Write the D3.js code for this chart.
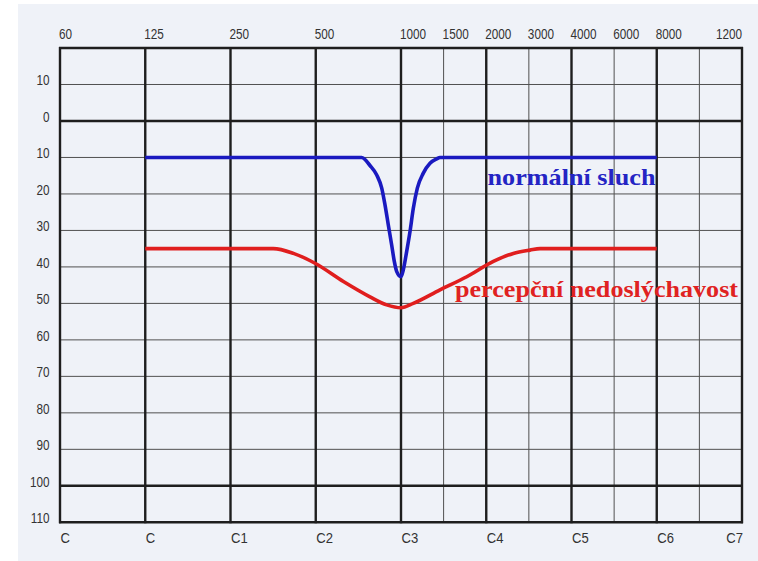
<!DOCTYPE html>
<html><head><meta charset="utf-8">
<script src="https://cdn.jsdelivr.net/npm/d3@7"></script>
<style>body{margin:0;background:#fff}svg{display:block}</style>
</head><body>
<svg id="c" width="758" height="561"></svg>
<script>
// ---- data ----
const topTickFreqs  = [62.5,125,250,500,1000,1414,2000,2828,4000,5657,8000,16000];
const topTickLabels = ["60","125","250","500","1000","1500","2000","3000","4000","6000","8000","1200"];
const octaveFreqs   = [62.5,125,250,500,1000,2000,4000,8000,16000];
const halfOctaveFreqs = [1414,2828,5657,11314];
const noteLabels    = ["C","C","C1","C2","C3","C4","C5","C6","C7"];
const dbTicks  = [-10,0,10,20,30,40,50,60,70,80,90,100,110];
const dbLabels = ["10","0","10","20","30","40","50","60","70","80","90","100","110"];
const thickDb  = [-20,0,100,110];
const thinDb   = [-10,10,20,30,40,50,60,70,80,90];

const normalFreq = [125,726,777,821,855,878,902,927,947,966,1000,1019,1047,1076,1105,1142,1199,1266,1337,1373,8000];
const normalDb   = [10,10,12.2,14.8,18.4,23,28.5,34,38.5,41.3,42.7,40.8,35.8,30.3,24,18.4,14.3,11.6,10.4,10,10];
const percFreq   = [125,354,417,497,626,777,890,1000,1105,1373,1707,2119,2492,2854,3097,8000];
const percDb     = [35,35,36.3,39,44,48.2,50.4,51.2,50,46.3,42.7,38.5,36.3,35.4,35,35];
const seriesNames = ["normální sluch","percepční nedoslýchavost"];

// ---- drawing ----
const svg = d3.select("#c");
svg.append("rect").attr("x",18).attr("y",4).attr("width",740).attr("height",557).attr("fill","#eff2f8");

const x = d3.scaleLog().base(2).domain([62.5,16000]).range([60,742]);
const y = d3.scaleLinear().domain([-20,110]).range([48,522.3]);

const g = svg.append("g");
g.selectAll(".hthin").data(thinDb).join("line")
  .attr("x1",x(62.5)).attr("x2",x(16000)).attr("y1",d=>y(d)).attr("y2",d=>y(d))
  .attr("stroke","#505050").attr("stroke-width",1);
g.selectAll(".vthin").data(halfOctaveFreqs).join("line")
  .attr("x1",d=>x(d)).attr("x2",d=>x(d)).attr("y1",y(-20)).attr("y2",y(110))
  .attr("stroke","#505050").attr("stroke-width",1);
g.selectAll(".hthick").data(thickDb).join("line")
  .attr("x1",x(62.5)-1).attr("x2",x(16000)+1).attr("y1",d=>y(d)).attr("y2",d=>y(d))
  .attr("stroke","#1e1e1e").attr("stroke-width",2.4);
g.selectAll(".vthick").data(octaveFreqs).join("line")
  .attr("x1",d=>x(d)).attr("x2",d=>x(d)).attr("y1",y(-20)-1).attr("y2",y(110)+1)
  .attr("stroke","#1e1e1e").attr("stroke-width",2.4);

const lab = (sel)=>sel.attr("font-family","Liberation Sans, Arial, sans-serif").attr("font-size",14).attr("fill","#333");
topTickFreqs.forEach((f,i)=>{
  const last = i===topTickFreqs.length-1;
  lab(svg.append("text")).text(topTickLabels[i])
    .attr("text-anchor", last?"end":"start")
    .attr("transform",`translate(${x(f)+(last?0:-1)},39) scale(0.84,1)`);
});
dbTicks.forEach((d,i)=>{
  lab(svg.append("text")).text(dbLabels[i]).attr("text-anchor","end")
    .attr("transform",`translate(49.5,${y(d)+1}) scale(0.84,1)`);
});
octaveFreqs.forEach((f,i)=>{
  const last = i===octaveFreqs.length-1;
  lab(svg.append("text")).text(noteLabels[i]).attr("text-anchor", last?"end":"start")
    .attr("font-size",14.5)
    .attr("transform",`translate(${x(f)+(last?1:0.5)},543) scale(0.9,1)`);
});

const line = d3.line().x(d=>x(d[0])).y(d=>y(d[1])).curve(d3.curveMonotoneX);
svg.append("path").datum(normalFreq.map((f,i)=>[f,normalDb[i]]))
  .attr("d",line).attr("fill","none").attr("stroke","#1a1ac0").attr("stroke-width",3.6)
  .attr("stroke-linejoin","round");
svg.append("path").datum(percFreq.map((f,i)=>[f,percDb[i]]))
  .attr("d",line).attr("fill","none").attr("stroke","#e01e1e").attr("stroke-width",3.6)
  .attr("stroke-linejoin","round");

svg.append("text").text(seriesNames[0])
  .attr("x",487.5).attr("y",185).attr("font-family","Liberation Serif, Times New Roman, serif")
  .attr("font-weight","bold").attr("font-size",23).attr("fill","#2424c4")
  .attr("textLength",168).attr("lengthAdjust","spacingAndGlyphs");
svg.append("text").text(seriesNames[1])
  .attr("x",455).attr("y",296.5).attr("font-family","Liberation Serif, Times New Roman, serif")
  .attr("font-weight","bold").attr("font-size",24).attr("fill","#e02222")
  .attr("textLength",283).attr("lengthAdjust","spacingAndGlyphs");
</script>
</body></html>
